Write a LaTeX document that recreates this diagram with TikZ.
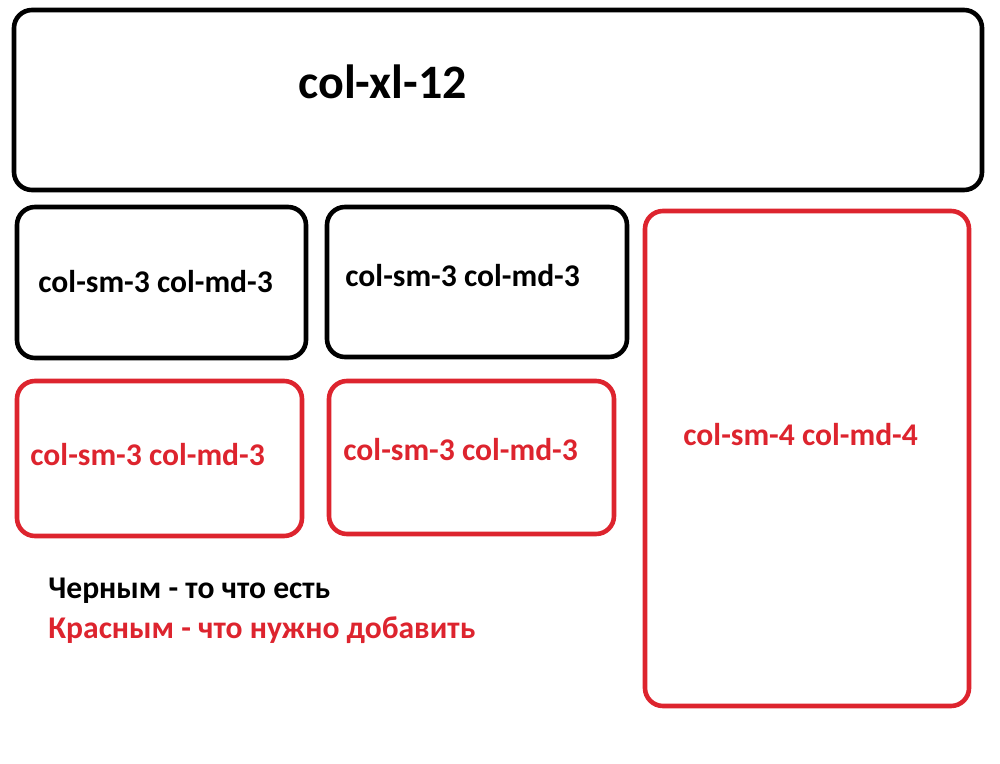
\documentclass[tikz,border=0pt]{standalone}
\usepackage{fontspec}
\setmainfont{Carlito}
\usepackage{tikz}
\definecolor{addred}{RGB}{221,36,46}
\tikzset{
  box/.style={line width=2.3pt, rounded corners=9pt},
  redbox/.style={box, draw=addred},
  lbl/.style={anchor=west, inner sep=0pt, font=\bfseries\fontsize{15.8}{19}\selectfont},
}

\begin{document}
\begin{tikzpicture}[x=0.5pt, y=-0.5pt]
        % pixel grid of the sketch, y runs downwards
        \useasboundingbox (0,0) rectangle (1000,764);

        % what already exists (black)
        \draw[box] (14,10) rectangle (982,190); % row xl-12
        \draw[box] (17,207) rectangle (306,358);
        \draw[box] (327,207) rectangle (627,357);

        % what has to be added (red)
        \draw[redbox] (17,381) rectangle (302,536);
        \draw[redbox] (329,381) rectangle (614,534);
        \draw[redbox] (645,211) rectangle (969,706); % tall column

        \node[lbl, font=\bfseries\fontsize{24}{28}\selectfont] (xl) at (298,82) {col-xl-12};
        \node[lbl] (sma) at (38,282) {col-sm-3 col-md-3};
        \node[lbl] (smb) at (345,276) {col-sm-3 col-md-3};
        \node[lbl, addred] (smc) at (30,455) {col-sm-3 col-md-3};
        \node[lbl, addred] (smd) at (343,450) {col-sm-3 col-md-3};
        \node[lbl, addred] (sme) at (683,435) {col-sm-4 col-md-4};

        % legend
        \node[lbl] (black) at (48,591) {Черным - то что есть};
        \node[lbl, addred] (red) at (48,630) {Красным - что нужно добавить};
    \end{tikzpicture}
\end{document}
